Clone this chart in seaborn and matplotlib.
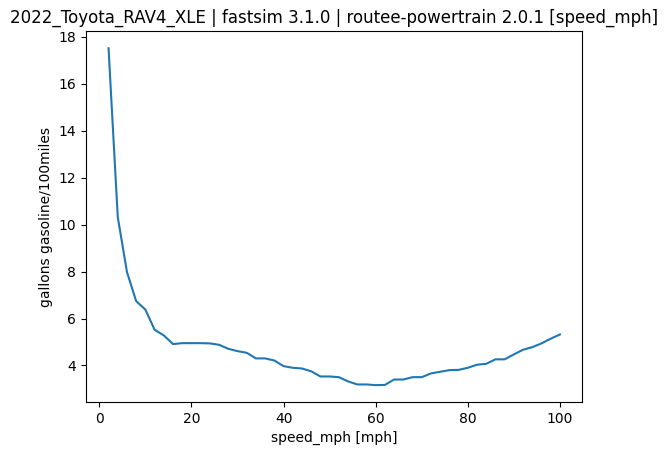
import numpy as np
import pandas as pd
import matplotlib
matplotlib.use('Agg')
import matplotlib.pyplot as plt
import seaborn as sns

# speed bins (mph) and fuel rate
speed_mph = list(range(2, 102, 2))
gal_per_100mi = [17.52, 10.33, 7.98, 6.74, 6.38, 5.52, 5.28, 4.91, 4.95, 4.95,
                 4.95, 4.94, 4.88, 4.71, 4.61, 4.54, 4.30, 4.30, 4.21, 3.97,
                 3.90, 3.87, 3.75, 3.53, 3.53, 3.50, 3.32, 3.19, 3.19, 3.16,
                 3.17, 3.40, 3.40, 3.50, 3.50, 3.66, 3.73, 3.80, 3.81, 3.90,
                 4.03, 4.07, 4.26, 4.26, 4.47, 4.67, 4.78, 4.94, 5.14, 5.32]

data = pd.DataFrame({'speed_mph': speed_mph, 'rate': gal_per_100mi})

fig = plt.figure(figsize=(6.68, 4.55), dpi=100)
ax = fig.add_axes([0.1287, 0.1165, 0.7433, 0.8145])
sns.lineplot(data=data, x='speed_mph', y='rate', ax=ax, color='#1f77b4', linewidth=1.5)

ax.set_xlabel('speed_mph [mph]')
ax.set_ylabel('gallons gasoline/100miles')
ax.set_title('2022_Toyota_RAV4_XLE | fastsim 3.1.0 | routee-powertrain 2.0.1 [speed_mph]')

fig.savefig('out.png', dpi=100)
